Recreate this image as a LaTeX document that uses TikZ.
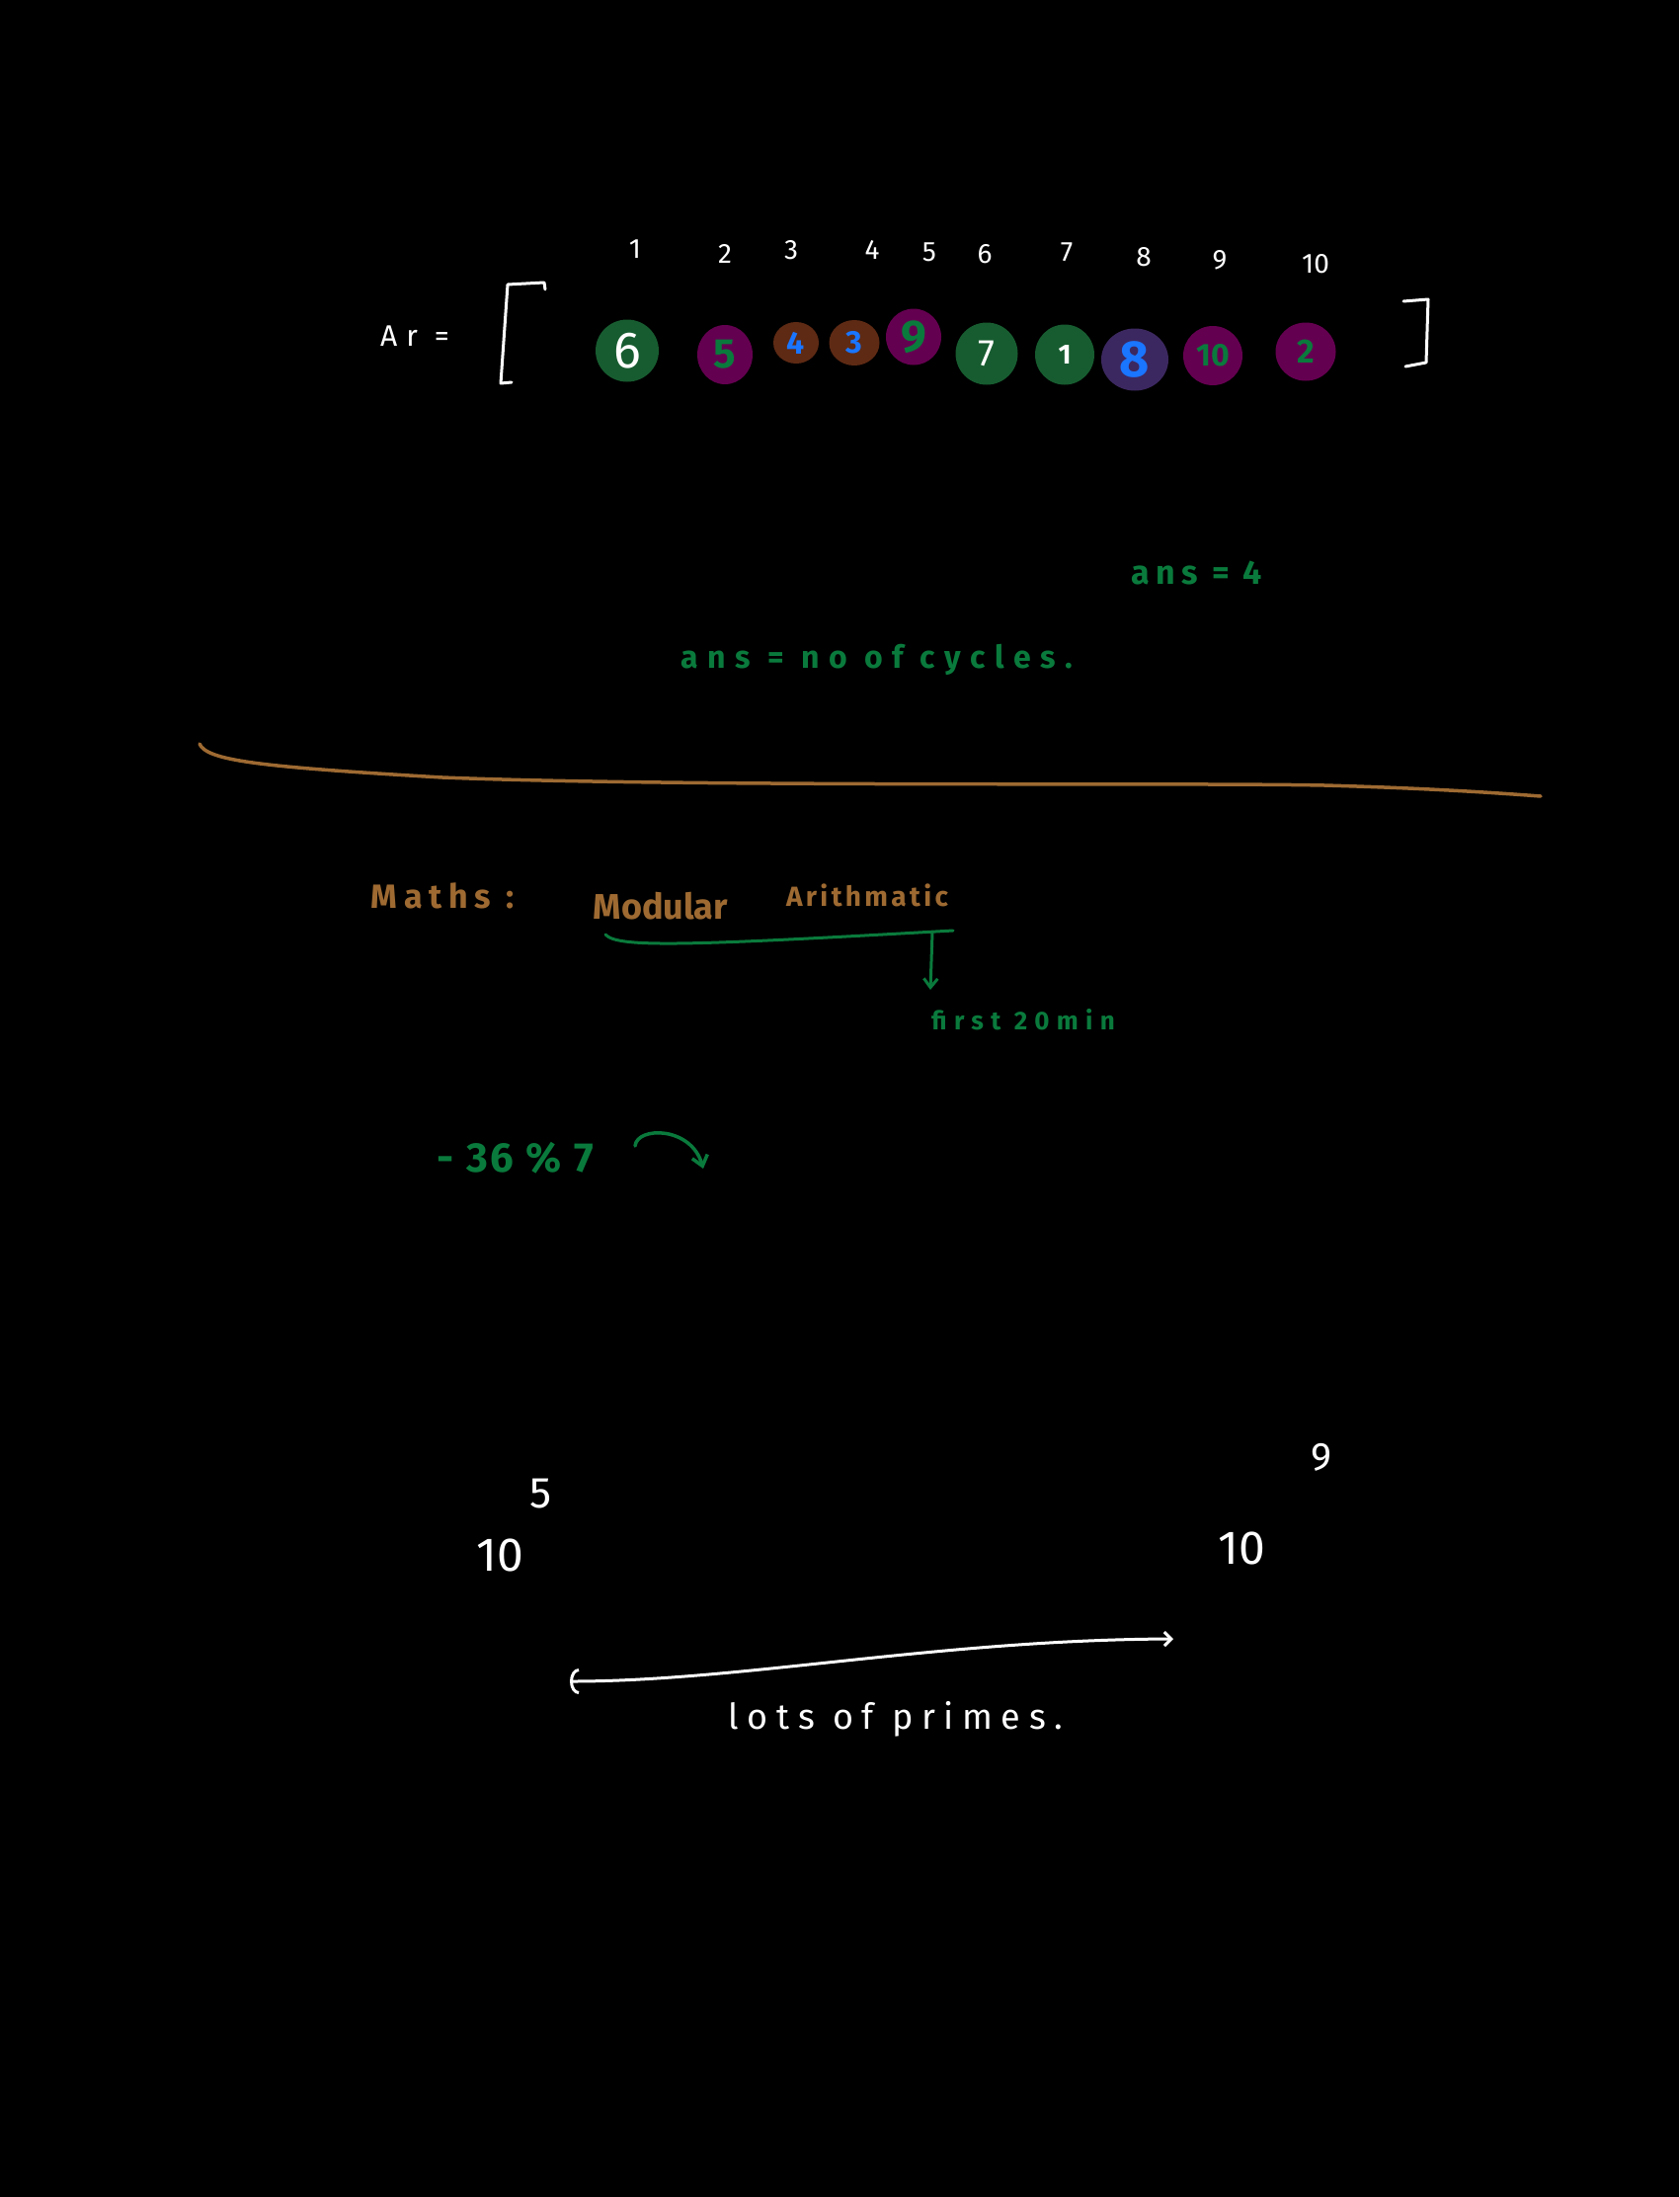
\documentclass[tikz,border=0pt]{standalone}
\usepackage{fontspec}
\setmainfont{Fira Sans}
\usetikzlibrary{shapes.geometric,arrows.meta}
\definecolor{cgreen}{HTML}{175C30}
\definecolor{cpurple}{HTML}{640050}
\definecolor{cbrown}{HTML}{5E2A14}
\definecolor{cindigo}{HTML}{3C2860}
\definecolor{tblue}{HTML}{1A75FF}
\definecolor{tgreen}{HTML}{0A7A3C}
\definecolor{tbrown}{HTML}{9E6A32}
\newcommand\fs[2]{\fontsize{#1}{#1}\selectfont\addfontfeature{LetterSpace=#2}}
\tikzset{
  every node/.style={inner sep=0pt, outer sep=0pt, anchor=center},
  cell/.style={ellipse, draw=none, inner sep=0pt},
  wtxt/.style={text=white},
  gtxt/.style={text=tgreen},
  btxt/.style={text=tbrown},
  idx/.style={text=white, font=\fs{28}{0}},
  ink/.style={line width=3pt, line cap=round, line join=round},
  whiteink/.style={ink, draw=white},
  greenink/.style={ink, draw=tgreen},
  brownink/.style={ink, draw=tbrown, line width=3.5pt},
}
\begin{document}
\begin{tikzpicture}[x=1pt, y=-1pt]
\fill[black] (0,0) rectangle (1700,2224);
\useasboundingbox (0,0) rectangle (1700,2224);

% ---- array ----
\node[wtxt, font=\fs{30}{30}] (ar) at (420,340) {Ar =};
\draw[whiteink] (552,293) -- (551,286) -- (514,288) -- (507,388) -- (518,387);
\draw[whiteink] (1421,305) -- (1446,303) -- (1444,367) -- (1423,371);

\node[idx] (i1) at (643,252) {1};
\node[idx] (i2) at (734,257) {2};
\node[idx] (i3) at (801,253) {3};
\node[idx] (i4) at (883,253) {4};
\node[idx] (i5) at (941,255) {5};
\node[idx] (i6) at (997,257) {6};
\node[idx] (i7) at (1080,255) {7};
\node[idx] (i8) at (1158,260) {8};
\node[idx] (i9) at (1235,263) {9};
\node[idx] (i10) at (1332,267) {10};

\node[cell, fill=cgreen, minimum width=64pt, minimum height=63pt, text=white, font=\fs{52}{0}] (c1) at (635,355) {6};
\node[cell, fill=cpurple, minimum width=56pt, minimum height=60pt, text=tgreen, font=\bfseries\fs{42}{0}] (c2) at (734,359) {5};
\node[cell, fill=cbrown, minimum width=46pt, minimum height=42pt, text=tblue, font=\bfseries\fs{32}{0}] (c3) at (806,347) {4};
\node[cell, fill=cbrown, minimum width=51pt, minimum height=46pt, text=tblue, font=\bfseries\fs{32}{0}] (c4) at (865,347) {3};
\node[cell, fill=cpurple, minimum width=56pt, minimum height=57pt, text=tgreen, font=\bfseries\fs{46}{0}] (c5) at (925,341) {9};
\node[cell, fill=cgreen, minimum width=63pt, minimum height=63pt, text=white, font=\fs{38}{0}] (c6) at (999,358) {7};
\node[cell, fill=cgreen, minimum width=60pt, minimum height=61pt, text=white, font=\bfseries\fs{28}{0}] (c7) at (1078,359) {1};
\node[cell, fill=cindigo, minimum width=68pt, minimum height=63pt, text=tblue, font=\bfseries\fs{52}{0}] (c8) at (1149,364) {8};
\node[cell, fill=cpurple, minimum width=60pt, minimum height=60pt, text=tgreen, font=\bfseries\fs{32}{0}] (c9) at (1228,360) {10};
\node[cell, fill=cpurple, minimum width=61pt, minimum height=59pt, text=tgreen, font=\bfseries\fs{34}{0}] (c10) at (1322,356) {2};

% ---- answers ----
\node[gtxt, font=\bfseries\fs{34}{18}] (ans4) at (1212,580) {ans = 4};
\node[gtxt, font=\bfseries\fs{32}{30}] (anscyc) at (888,668) {ans = no of cycles.};

% ---- divider ----
\draw[brownink] (202,753) .. controls (210,770) and (260,776) .. (448,787)
  .. controls (700,797) and (1200,792) .. (1341,795)
  .. controls (1450,798) and (1520,803) .. (1560,806);

% ---- maths ----
\node[btxt, font=\bfseries\fs{34}{20}] (maths) at (448,907) {Maths :};
\node[btxt, font=\bfseries\fs{36}{0}] (modular) at (669,917) {Modular};
\node[btxt, font=\bfseries\fs{28}{12}] (arith) at (878,906) {Arithmatic};
\coordinate (ulA) at (613,946);
\coordinate (ulB) at (965,942);
\draw[greenink] (ulA) .. controls (625,960) and (700,957) .. (ulB);
\coordinate (arS) at (944,944);
\node[gtxt, font=\bfseries\fs{26}{28}] (first) at (1036,1032) {first 20min};
\coordinate (arE) at (942,1002);
\draw[greenink, -{Straight Barb[length=9pt, width=14pt]}] (arS) -- (arE);

\node[gtxt, font=\bfseries\fs{42}{6}] (mod) at (522,1172) {- 36 \% 7};
\coordinate (caS) at (643,1160);
\coordinate (caE) at (712,1183);
\draw[greenink, line width=3.5pt, -{Straight Barb[length=10pt, width=16pt]}] (caS) .. controls (645,1140) and (700,1140) .. (caE);

% ---- primes ----
\node[wtxt, font=\fs{44}{0}] (e5) at (548,1512) {5};
\node[wtxt, font=\fs{48}{0}] (ten1) at (506,1574) {10};
\node[wtxt, font=\fs{40}{0}] (e9) at (1338,1475) {9};
\node[wtxt, font=\fs{48}{0}] (ten2) at (1257,1567) {10};
\coordinate (daL) at (577,1702);
\coordinate (daR) at (1188,1659);
\draw[whiteink, {Arc Barb[length=9pt, width=26pt]}-{Straight Barb[length=7pt, width=14pt]}] (daL) .. controls (750,1702) and (950,1660) .. (daR);
\node[wtxt, font=\fs{36}{24}] (primes) at (907,1740) {lots of primes.};
\end{tikzpicture}
\end{document}
